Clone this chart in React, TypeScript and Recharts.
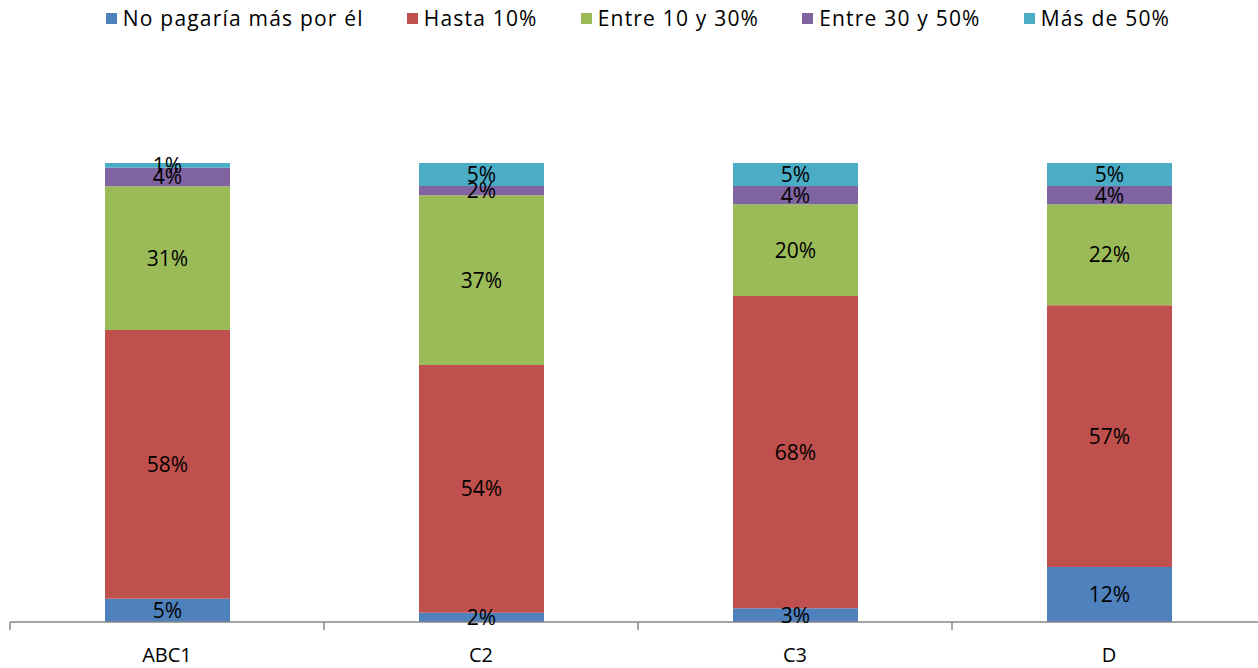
import { BarChart, Bar, XAxis, YAxis, Legend, LabelList } from 'recharts';

const categories = ['ABC1', 'C2', 'C3', 'D'];
const noPagaria = [5, 2, 3, 12];
const hasta10 = [58, 54, 68, 57];
const entre10y30 = [31, 37, 20, 22];
const entre30y50 = [4, 2, 4, 4];
const masDe50 = [1, 5, 5, 5];

const seriesNames = ['No pagaría más por él', 'Hasta 10%', 'Entre 10 y 30%', 'Entre 30 y 50%', 'Más de 50%'];
const seriesKeys = ['noPagaria', 'hasta10', 'entre10y30', 'entre30y50', 'masDe50'];
const colors = ['#4F81BD', '#C0504D', '#9BBB59', '#8064A2', '#4BACC6'];

const data = categories.map((name, i) => ({
  name,
  noPagaria: noPagaria[i],
  hasta10: hasta10[i],
  entre10y30: entre10y30[i],
  entre30y50: entre30y50[i],
  masDe50: masDe50[i],
}));

const FONT = '"Open Sans", "Liberation Sans", sans-serif';

const LegendContent = () => (
  <div style={{ display: 'flex', justifyContent: 'center', height: 36, alignItems: 'center', fontFamily: FONT, fontSize: 21, letterSpacing: 1.2, color: '#000' }}>
    {seriesNames.map((s, i) => (
      <div key={s} style={{ display: 'flex', alignItems: 'center', marginRight: i < seriesNames.length - 1 ? 43 : 0 }}>
        <span style={{ width: 11, height: 11, background: colors[i], display: 'inline-block', marginRight: 6 }} />
        <span>{s}</span>
      </div>
    ))}
  </div>
);

const CategoryTick = (props: any) => {
  const { x, y, payload, width } = props;
  const band = width / categories.length;
  const axisY = y - 8;
  return (
    <g>
      <line x1={x - band / 2} x2={x - band / 2} y1={axisY} y2={axisY + 8} stroke="#868686" strokeWidth={1.5} />
      <text x={x} y={axisY + 40} textAnchor="middle" fontFamily={FONT} fontSize={20} fill="#000">
        {payload.value}
      </text>
    </g>
  );
};

export default function App() {
  return (
    <div style={{ position: 'absolute', top: 0, left: 0, width: 1258, height: 668, overflow: 'hidden' }}>
      <BarChart
        width={1270}
        height={668}
        data={data}
        stackOffset="expand"
        margin={{ top: 127, right: 4, left: 10, bottom: 0 }}
      >
        <Legend verticalAlign="top" content={<LegendContent />} wrapperStyle={{ top: 0 }} />
        <XAxis
          dataKey="name"
          height={46}
          tickLine={false}
          tickSize={8}
          tickMargin={0}
          axisLine={{ stroke: '#868686', strokeWidth: 1.5 }}
          tick={<CategoryTick />}
          interval={0}
        />
        <YAxis hide domain={[0, 1]} />
        {seriesKeys.map((k, i) => (
          <Bar key={k} dataKey={k} name={seriesNames[i]} stackId="a" fill={colors[i]} barSize={125} isAnimationActive={false}>
            <LabelList
              dataKey={k}
              position="center"
              formatter={(v: any) => `${v}%`}
              style={{ fontFamily: FONT, fontSize: 21, fill: '#000' }}
            />
          </Bar>
        ))}
      </BarChart>
    </div>
  );
}
